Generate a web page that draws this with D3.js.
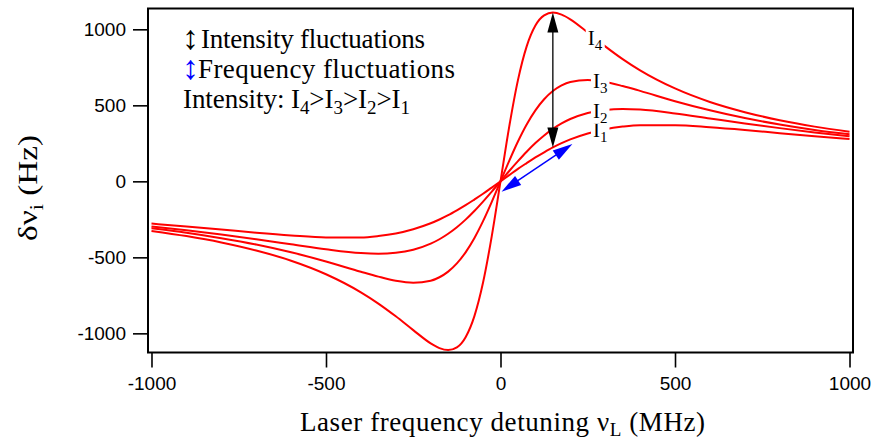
<!DOCTYPE html>
<html><head><meta charset="utf-8">
<script src="https://cdn.jsdelivr.net/npm/d3@7"></script>
<style>body{margin:0;background:#fff}</style>
</head><body><svg id="c" width="876" height="440"></svg>
<script>
// ---- data ----
const detuning = [-1000,-900,-800,-700,-600,-500,-400,-350,-300,-250,-200,-175,-150,-125,-100,-75,-50,-25,0,25,50,75,100,125,150,175,200,250,300,350,400,500,600,700,800,900,1000];
const shiftI1 = [-278,-297,-317,-338,-356,-369,-369,-360,-343,-315,-276,-251,-223,-191,-157,-120,-82,-41,0,41,82,120,157,191,223,251,276,315,343,360,369,369,356,338,317,297,278];
const shiftI2 = [-297,-322,-350,-381,-414,-447,-472,-476,-470,-450,-410,-381,-345,-302,-252,-195,-133,-68,0,68,133,195,252,302,345,381,410,450,470,476,472,447,414,381,350,322,297];
const shiftI3 = [-309,-338,-374,-416,-467,-527,-595,-627,-654,-667,-654,-631,-594,-540,-467,-374,-262,-135,0,135,262,374,467,540,594,631,654,667,654,627,595,527,467,416,374,338,309];
const shiftI4 = [-326,-360,-402,-455,-522,-611,-730,-804,-888,-979,-1066,-1097,-1110,-1092,-1025,-888,-666,-360,0,360,666,888,1025,1092,1110,1097,1066,979,888,804,730,611,522,455,402,360,326];
const seriesNames = ["1","2","3","4"];
const labelDetuning = [285, 285, 285, 270];
const xTicks = [-1000,-500,0,500,1000];
const yTicks = [-1000,-500,0,500,1000];
// annotation arrows: [x1,y1,x2,y2] in data units
const intensityArrow = [150, 1110, 150, 222];
const frequencyArrow = [3, -68, 206, 246];

// ---- drawing ----
const svg = d3.select("#c");
const x = d3.scaleLinear().domain([-1010,1010]).range([148,853]);
const y = d3.scaleLinear().domain([-1126,1137]).range([352.5,8.5]);
const serif = "'Liberation Serif', 'Times New Roman', serif";
const sans = "'Liberation Sans', Arial, sans-serif";

const allSeries = [shiftI1, shiftI2, shiftI3, shiftI4];
const line = d3.line().x((d,i)=>x(detuning[i])).y(d=>y(d)).curve(d3.curveMonotoneX);

const gCurves = svg.append("g");
allSeries.forEach(s=>{
  gCurves.append("path").datum(s).attr("d", line)
    .attr("fill","none").attr("stroke","#ff0000").attr("stroke-width",2);
});

// curve labels with white background
function interp(s, xv){
  const i = d3.bisectLeft(detuning, xv);
  const x0 = detuning[i-1], x1 = detuning[i];
  const t = (xv-x0)/(x1-x0);
  return s[i-1] + t*(s[i]-s[i-1]);
}
allSeries.forEach((s,k)=>{
  const lx = x(labelDetuning[k]), ly = y(interp(s, labelDetuning[k]));
  const g = svg.append("g");
  const bg = g.append("rect").attr("fill","#fff");
  const t = g.append("text").attr("x", lx-7).attr("y", ly+7)
    .attr("font-family", serif).attr("font-size", 21).attr("fill","#000");
  t.append("tspan").text("I");
  t.append("tspan").attr("font-size",15).attr("dy",5).text(seriesNames[k]);
  const bb = t.node().getBBox();
  bg.attr("x", bb.x-2).attr("y", bb.y+3).attr("width", bb.width+4).attr("height", bb.height-5);
});

// frame
svg.append("rect").attr("x",148).attr("y",8.5).attr("width",705).attr("height",344)
  .attr("fill","none").attr("stroke","#000").attr("stroke-width",2);

// axes
const yAxis = svg.append("g").attr("transform","translate(148,0)")
  .call(d3.axisLeft(y).tickValues(yTicks).tickSize(15).tickPadding(7).tickFormat(d=>String(d)));
const xAxis = svg.append("g").attr("transform","translate(0,352.5)")
  .call(d3.axisBottom(x).tickValues(xTicks).tickSize(15).tickPadding(9).tickFormat(d=>String(d)));
[yAxis, xAxis].forEach(a=>{
  a.select(".domain").remove();
  a.selectAll(".tick line").attr("stroke","#000").attr("stroke-width",1.6);
  a.selectAll(".tick text").attr("font-family", sans).attr("font-size",19).attr("fill","#000");
});

// arrows
function arrow(a, color, w){
  const x1=x(a[0]), y1=y(a[1]), x2=x(a[2]), y2=y(a[3]);
  const dx=x2-x1, dy=y2-y1, L=Math.hypot(dx,dy), ux=dx/L, uy=dy/L, nx=-uy, ny=ux;
  const hl=20, hw=5.5;
  svg.append("line").attr("x1",x1+ux*hl*0.8).attr("y1",y1+uy*hl*0.8)
    .attr("x2",x2-ux*hl*0.8).attr("y2",y2-uy*hl*0.8).attr("stroke",color).attr("stroke-width",w);
  const head=(tx,ty,sx,sy)=>{
    const bx=tx-sx*hl, by=ty-sy*hl;
    svg.append("path").attr("d",`M${tx},${ty}L${bx+nx*hw},${by+ny*hw}L${bx-nx*hw},${by-ny*hw}Z`).attr("fill",color);
  };
  head(x2,y2,ux,uy); head(x1,y1,-ux,-uy);
}
arrow(intensityArrow, "#000", 1.3);
arrow(frequencyArrow, "#0000ff", 1.5);

// legend
const lg = svg.append("g").attr("font-family", serif).attr("font-size",27).attr("fill","#000");
lg.append("text").attr("x",182).attr("y",49).attr("font-size",34).attr("fill","#000").text("\u2195");
lg.append("text").attr("x",201).attr("y",48).attr("textLength",224).attr("lengthAdjust","spacing").text("Intensity fluctuations");
lg.append("text").attr("x",182).attr("y",79).attr("font-size",34).attr("fill","#0000ff").text("\u2195");
lg.append("text").attr("x",198).attr("y",78).attr("textLength",257).attr("lengthAdjust","spacing").text("Frequency fluctuations");
const l3 = lg.append("text").attr("x",183).attr("y",108).attr("textLength",227).attr("lengthAdjust","spacing");
l3.append("tspan").text("Intensity: ");
["4","3","2","1"].forEach((n,i)=>{
  l3.append("tspan").text("I");
  l3.append("tspan").attr("font-size",19).attr("dy",6).text(n);
  l3.append("tspan").attr("dy",-6).text(i<3?">":"");
});

// axis titles
const xt = svg.append("text").attr("x",300).attr("y",431)
  .attr("textLength",405).attr("lengthAdjust","spacing")
  .attr("font-family",serif).attr("font-size",27).attr("fill","#000");
xt.append("tspan").text("Laser frequency detuning \u03BD");
xt.append("tspan").attr("font-size",19).attr("dy",5).text("L");
xt.append("tspan").attr("dy",-5).text(" (MHz)");

const yt = svg.append("text").attr("transform","translate(37,241) rotate(-90)")
  .attr("textLength",106).attr("lengthAdjust","spacingAndGlyphs")
  .attr("font-family",serif).attr("font-size",27).attr("fill","#000");
yt.append("tspan").text("\u03B4\u03BD");
yt.append("tspan").attr("font-size",18).attr("dy",6).text("i");
yt.append("tspan").attr("dy",-6).text(" (Hz)");
</script>
</body></html>
